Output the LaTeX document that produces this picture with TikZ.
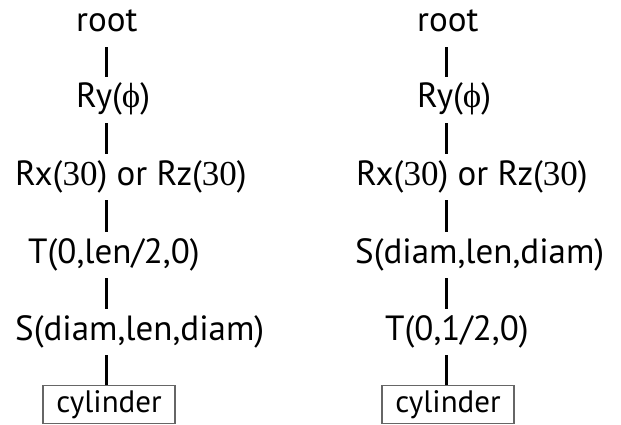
\documentclass[tikz,border=0pt]{standalone}
\usepackage{fontspec}
\setmainfont{PT Sans}
\newfontfamily\numfont{Liberation Serif}
\newcommand{\nm}[1]{{\numfont #1}}
\newcommand{\angphi}{{\numfont\symbol{"03D5}}}
\begin{document}
\begin{tikzpicture}[x=1pt,y=-1pt,
  op/.style={anchor=base west, inner xsep=0pt, inner ysep=7pt,
    text height=24pt, text depth=8pt, font=\fontsize{35}{38}\selectfont},
  leaf/.style={draw=black!60, line width=1.4pt, anchor=north, inner sep=0pt,
    minimum width=132pt, minimum height=38pt,
    font=\fontsize{31}{34}\selectfont},
  edge/.style={line width=3pt}]
\useasboundingbox (0,0) rectangle (621,425);

% left tree: translate before scaling
\coordinate (lspine) at (106,0);
\node[op] (lroot) at (76,32) {root};
\node[op] (lry)   at (76,108) {Ry(\angphi)};
\node[op] (lrx)   at (15,185) {Rx(\nm{30}) or Rz(\nm{30})};
\node[op] (lt)    at (28,263) {T(0,len/2,0)};
\node[op] (ls)    at (15,340) {S(diam,len,diam)};
\node[leaf] (lcyl) at (109,385) {cylinder};

% right tree: scale before translating
\coordinate (rspine) at (446,0);
\node[op] (rroot) at (417,32) {root};
\node[op] (rry)   at (417,108) {Ry(\angphi)};
\node[op] (rrx)   at (356,185) {Rx(\nm{30}) or Rz(\nm{30})};
\node[op] (rs)    at (355,263) {S(diam,len,diam)};
\node[op] (rt)    at (385,340) {T(0,1/2,0)};
\node[leaf] (rcyl) at (448,385) {cylinder};

\foreach \a/\b in {lroot/lry, lry/lrx, lrx/lt, lt/ls, ls/lcyl}
  \draw[edge] (\a.south -| lspine) -- (\b.north -| lspine);
\foreach \a/\b in {rroot/rry, rry/rrx, rrx/rs, rs/rt, rt/rcyl}
  \draw[edge] (\a.south -| rspine) -- (\b.north -| rspine);
\end{tikzpicture}
\end{document}
